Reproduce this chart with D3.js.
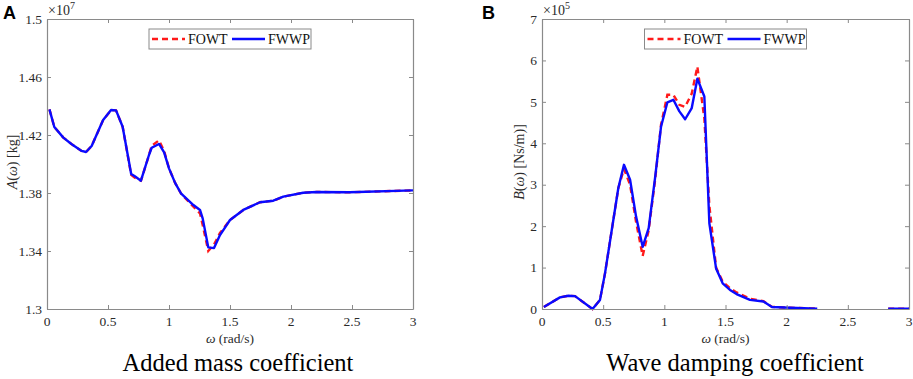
<!DOCTYPE html>
<html><head><meta charset="utf-8">
<script src="https://cdn.jsdelivr.net/npm/d3@7"></script>
<style>
html,body{margin:0;padding:0;background:#fff;}
svg{display:block;}
</style></head>
<body>
<svg id="chart" width="913" height="379"></svg>
<script>
// ---------- DATA ----------
const xTicks = [0, 0.5, 1, 1.5, 2, 2.5, 3];
const xTickLabels = ["0", "0.5", "1", "1.5", "2", "2.5", "3"];

// Panel A: added mass coefficient (x 1e7 kg)
const omegaA = [0.02, 0.06, 0.134, 0.2, 0.284, 0.32, 0.366, 0.46, 0.525, 0.566, 0.62, 0.69, 0.72, 0.77, 0.836, 0.858, 0.918, 0.96, 1.0, 1.05, 1.1, 1.2, 1.254, 1.276, 1.322, 1.369, 1.418, 1.5, 1.609, 1.746, 1.855, 1.937, 2.1, 2.21, 2.48, 3.0];
const addedMassFWWP = [1.4377, 1.4255, 1.4182, 1.4138, 1.409, 1.4083, 1.4124, 1.4303, 1.4372, 1.437, 1.4257, 1.3931, 1.3915, 1.3885, 1.4062, 1.4112, 1.4138, 1.408, 1.397, 1.387, 1.3795, 1.3717, 1.3683, 1.3625, 1.3425, 1.342, 1.351, 1.3614, 1.3683, 1.3736, 1.3747, 1.3775, 1.3802, 1.3807, 1.3805, 1.3818];
const addedMassFOWT = [1.4377, 1.4255, 1.4182, 1.4138, 1.409, 1.4083, 1.4124, 1.4303, 1.4372, 1.437, 1.4257, 1.3925, 1.3905, 1.3885, 1.4062, 1.4125, 1.4163, 1.409, 1.397, 1.387, 1.3795, 1.3705, 1.366, 1.358, 1.34, 1.3445, 1.3525, 1.3614, 1.3683, 1.3736, 1.3747, 1.3775, 1.3802, 1.3807, 1.3805, 1.3818];
const yTicksA = [1.3, 1.34, 1.38, 1.42, 1.46, 1.5];
const yTickLabelsA = ["1.3", "1.34", "1.38", "1.42", "1.46", "1.5"];

// Panel B: wave damping coefficient (x 1e5 Ns/m)
const omegaB = [0.015, 0.147, 0.215, 0.27, 0.413, 0.474, 0.515, 0.57, 0.624, 0.67, 0.72, 0.769, 0.823, 0.872, 0.924, 0.973, 1.025, 1.074, 1.123, 1.17, 1.224, 1.27, 1.327, 1.368, 1.423, 1.477, 1.537, 1.59, 1.70, 1.81, 1.88, 2.03, 2.25, 2.5, 2.83, 3.0];
const dampingFWWP = [0.05, 0.28, 0.32, 0.31, 0.0, 0.22, 0.86, 1.9, 2.92, 3.48, 3.12, 2.23, 1.5, 1.95, 3.16, 4.4, 4.99, 5.05, 4.77, 4.58, 4.85, 5.56, 5.13, 2.07, 0.98, 0.62, 0.46, 0.36, 0.22, 0.18, 0.05, 0.03, 0.01, null, 0.01, 0.01];
const dampingFOWT = [0.05, 0.28, 0.32, 0.31, 0.0, 0.22, 0.86, 1.9, 2.92, 3.38, 3.0, 2.1, 1.28, 1.9, 3.1, 4.45, 5.17, 5.17, 4.93, 4.88, 5.2, 5.85, 4.6, 2.5, 1.0, 0.66, 0.5, 0.4, 0.25, 0.19, 0.05, 0.03, 0.01, null, 0.01, 0.01];
const yTicksB = [0, 1, 2, 3, 4, 5, 6, 7];
const yTickLabelsB = ["0", "1", "2", "3", "4", "5", "6", "7"];

const seriesNames = ["FOWT", "FWWP"];
const seriesColors = ["#ff1a1a", "#0a0aff"];

// ---------- DRAW ----------
const svg = d3.select("#chart");
const serif = "'Liberation Serif', 'Times New Roman', serif";
const axisColor = "#8a8a8a";
const textColor = "#2a2a2a";

function panel(cfg) {
  const x = d3.scaleLinear().domain([0, 3]).range([cfg.x0, cfg.x1]);
  const y = d3.scaleLinear().domain(cfg.yDomain).range([309, 19]);
  const g = svg.append("g");

  // Series
  const line = d3.line().defined(d => d[1] != null).x(d => x(d[0])).y(d => y(d[1]));
  const fowt = cfg.omega.map((w, i) => [w, cfg.fowt[i]]);
  const fwwp = cfg.omega.map((w, i) => [w, cfg.fwwp[i]]);
  g.append("path").attr("d", line(fowt)).attr("fill", "none")
    .attr("stroke", seriesColors[0]).attr("stroke-width", 2.4).attr("stroke-dasharray", "6,4");
  g.append("path").attr("d", line(fwwp)).attr("fill", "none")
    .attr("stroke", seriesColors[1]).attr("stroke-width", 2.4).attr("stroke-linejoin", "round");

  // Axes (box with inward ticks on all four sides)
  const tick = 4;
  function style(sel) {
    sel.selectAll("path").attr("stroke", axisColor).attr("stroke-width", 1.2);
    sel.selectAll("line").attr("stroke", axisColor).attr("stroke-width", 1);
  }
  g.append("g").attr("transform", `translate(0,${y.range()[0]})`).call(d3.axisTop(x).tickValues(xTicks).tickSizeInner(tick).tickSizeOuter(0).tickFormat(() => "")).call(style);
  g.append("g").attr("transform", `translate(0,${y.range()[1]})`).call(d3.axisBottom(x).tickValues(xTicks).tickSizeInner(tick).tickSizeOuter(0).tickFormat(() => "")).call(style);
  g.append("g").attr("transform", `translate(${cfg.x0},0)`).call(d3.axisRight(y).tickValues(cfg.yTicks).tickSizeInner(tick).tickSizeOuter(0).tickFormat(() => "")).call(style);
  g.append("g").attr("transform", `translate(${cfg.x1},0)`).call(d3.axisLeft(y).tickValues(cfg.yTicks).tickSizeInner(tick).tickSizeOuter(0).tickFormat(() => "")).call(style);

  // Tick labels
  g.selectAll(".xl").data(xTicks).enter().append("text")
    .attr("x", d => x(d)).attr("y", 326).attr("text-anchor", "middle")
    .attr("font-family", serif).attr("font-size", 13.5).attr("fill", textColor)
    .text((d, i) => xTickLabels[i]);
  g.selectAll(".yl").data(cfg.yTicks).enter().append("text")
    .attr("x", cfg.x0 - 5).attr("y", d => y(d)).attr("dy", "0.35em").attr("text-anchor", "end")
    .attr("font-family", serif).attr("font-size", 13.5).attr("fill", textColor)
    .text((d, i) => cfg.yTickLabels[i]);

  // Exponent
  const ex = g.append("text").attr("x", cfg.x0 + 1).attr("y", 15)
    .attr("font-family", serif).attr("font-size", 14).attr("fill", textColor);
  ex.append("tspan").text("\u00d710");
  ex.append("tspan").attr("dy", -6).attr("font-size", 10).text(cfg.exp);

  // Axis labels
  const xl = g.append("text").attr("x", (cfg.x0 + cfg.x1) / 2).attr("y", 343).attr("text-anchor", "middle")
    .attr("font-family", serif).attr("font-size", 13.5).attr("fill", textColor);
  xl.append("tspan").attr("font-style", "italic").text("\u03c9");
  xl.append("tspan").text(" (rad/s)");

  const yl = g.append("text").attr("transform", `translate(${cfg.ylx},162) rotate(-90)`)
    .attr("text-anchor", "middle").attr("dominant-baseline", "central")
    .attr("font-family", serif).attr("font-size", 14).attr("fill", textColor);
  yl.append("tspan").attr("font-style", "italic").text(cfg.ylSym);
  yl.append("tspan").text("(");
  yl.append("tspan").attr("font-style", "italic").text("\u03c9");
  yl.append("tspan").text(") " + cfg.ylUnit);

  // Legend
  const cx = (cfg.x0 + cfg.x1) / 2;
  const lx = cx - 81, ly = 29;
  g.append("rect").attr("x", lx).attr("y", ly).attr("width", 162).attr("height", 20)
    .attr("fill", "#fff").attr("stroke", axisColor).attr("stroke-width", 1);
  g.append("line").attr("x1", lx + 3).attr("x2", lx + 36).attr("y1", ly + 10).attr("y2", ly + 10)
    .attr("stroke", seriesColors[0]).attr("stroke-width", 2.4).attr("stroke-dasharray", "6,4");
  g.append("text").attr("x", lx + 39).attr("y", ly + 15).attr("font-family", serif)
    .attr("font-size", 14).attr("fill", "#111").text(seriesNames[0]);
  g.append("line").attr("x1", lx + 83).attr("x2", lx + 116).attr("y1", ly + 10).attr("y2", ly + 10)
    .attr("stroke", seriesColors[1]).attr("stroke-width", 2.4);
  g.append("text").attr("x", lx + 119).attr("y", ly + 15).attr("font-family", serif)
    .attr("font-size", 14).attr("fill", "#111").text(seriesNames[1]);

  // Panel letter
  g.append("text").attr("x", cfg.letterX).attr("y", 18.5).attr("font-family", "'Liberation Sans', Arial, sans-serif")
    .attr("font-weight", "bold").attr("font-size", 18).attr("fill", "#000").text(cfg.letter);

  // Caption
  g.append("text").attr("x", cfg.capX).attr("y", 371).attr("text-anchor", "middle")
    .attr("font-family", serif).attr("font-size", 24.5).attr("fill", "#000").text(cfg.caption);
}

panel({
  x0: 47, x1: 413, yDomain: [1.3, 1.5], yTicks: yTicksA, yTickLabels: yTickLabelsA,
  omega: omegaA, fowt: addedMassFOWT, fwwp: addedMassFWWP, exp: "7",
  ylx: 12, ylSym: "A", ylUnit: "[kg]", letter: "A", letterX: 3,
  caption: "Added mass coefficient", capX: 238
});
panel({
  x0: 542, x1: 909, yDomain: [0, 7], yTicks: yTicksB, yTickLabels: yTickLabelsB,
  omega: omegaB, fowt: dampingFOWT, fwwp: dampingFWWP, exp: "5",
  ylx: 519, ylSym: "B", ylUnit: "[Ns/m)]", letter: "B", letterX: 482,
  caption: "Wave damping coefficient", capX: 735
});
</script>
</body></html>
